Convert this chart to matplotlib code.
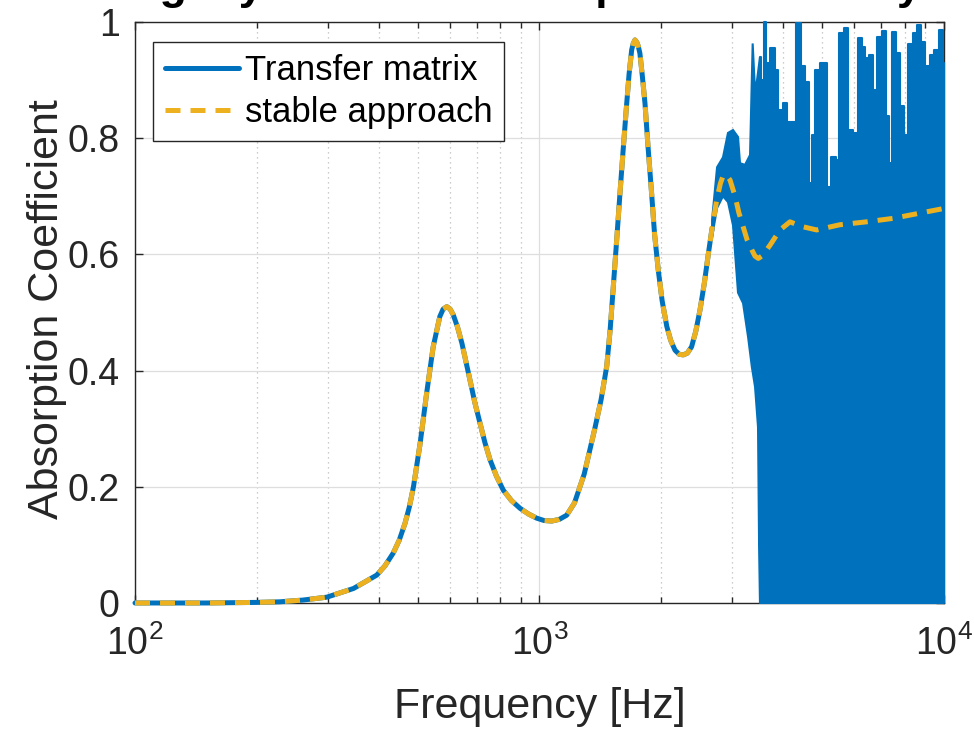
import matplotlib
matplotlib.use('Agg')
import matplotlib.pyplot as plt
from matplotlib.ticker import FixedLocator, LogLocator, NullFormatter, FormatStrFormatter
import numpy as np

plt.rcParams['font.family'] = ['Liberation Sans', 'DejaVu Sans']
plt.rcParams['mathtext.fontset'] = 'custom'
plt.rcParams['mathtext.rm'] = 'Liberation Sans'
plt.rcParams['mathtext.it'] = 'Liberation Sans:italic'
plt.rcParams['mathtext.bf'] = 'Liberation Sans:bold'

# Shared smooth part (both methods agree up to ~2.7 kHz)
freq_common = [100, 150, 200, 228, 260, 298, 347, 396, 415, 435, 450, 465, 477,
               488, 507, 526, 546, 567, 578, 590, 601, 612, 627, 643, 673, 692,
               713, 733, 755, 783, 814, 853, 895, 940, 984, 1025, 1072, 1120,
               1167, 1220, 1290, 1370, 1420, 1466, 1495, 1522, 1550, 1581,
               1610, 1643, 1665, 1690, 1705, 1722, 1740, 1755, 1771, 1795,
               1823, 1855, 1893, 1925, 1966, 2010, 2064, 2110, 2163, 2215,
               2268, 2320, 2377, 2435, 2493, 2555, 2616, 2671]
alpha_common = [0.0, 0.0, 0.001, 0.002, 0.005, 0.010, 0.025, 0.048, 0.064,
                0.086, 0.108, 0.137, 0.166, 0.200, 0.275, 0.361, 0.441, 0.493,
                0.506, 0.510, 0.506, 0.496, 0.475, 0.447, 0.384, 0.345, 0.309,
                0.276, 0.246, 0.218, 0.194, 0.176, 0.163, 0.153, 0.146, 0.142,
                0.141, 0.144, 0.151, 0.172, 0.222, 0.300, 0.350, 0.407, 0.470,
                0.544, 0.620, 0.705, 0.780, 0.860, 0.910, 0.952, 0.963, 0.969,
                0.965, 0.958, 0.946, 0.908, 0.860, 0.785, 0.705, 0.635, 0.573,
                0.520, 0.476, 0.452, 0.435, 0.428, 0.427, 0.430, 0.441, 0.468,
                0.504, 0.550, 0.602, 0.645]

# Stable approach above 2.7 kHz
freq_stable = [2743, 2800, 2849, 2900, 2958, 3047, 3110, 3186, 3260, 3347,
               3410, 3475, 3560, 3716, 3932, 4161, 4447, 4845, 5530, 6437,
               7494, 8723, 10000]
alpha_stable = [0.694, 0.722, 0.737, 0.736, 0.728, 0.699, 0.672, 0.648, 0.625,
                0.608, 0.597, 0.593, 0.598, 0.616, 0.642, 0.656, 0.648, 0.642,
                0.651, 0.656, 0.662, 0.671, 0.679]

# Transfer matrix, unstable region: onset band (upper / lower edges)
freq_tm_onset_upper = [2671, 2748, 2842, 2924, 3009, 3096, 3131, 3221, 3315,
                       3365, 3411, 3450, 3509]
alpha_tm_onset_upper = [0.66, 0.75, 0.767, 0.809, 0.814, 0.802, 0.757, 0.754,
                        0.771, 0.963, 0.88, 0.90, 0.94]
freq_tm_onset_lower = [2671, 2748, 2842, 2924, 3009, 3096, 3186, 3278, 3350,
                       3411, 3469, 3490, 3509]
alpha_tm_onset_lower = [0.63, 0.68, 0.70, 0.69, 0.65, 0.534, 0.516, 0.458,
                        0.406, 0.372, 0.303, 0.10, 0.0]

# Transfer matrix, fully oscillating 0..peak region: peak envelope
freq_tm_peaks = [3509, 3568, 3630, 3651, 3772, 3859, 3910, 4068, 4115, 4282,
                 4355, 4482, 4577, 4683, 4744, 4845, 5023, 5129, 5166, 5317,
                 5470, 5555, 5746, 5855, 6026, 6199, 6306, 6440, 6626, 6751,
                 6946, 7146, 7271, 7383, 7481, 7696, 7859, 8085, 8241, 8478,
                 8624, 8872, 9128, 9324, 9594, 9870, 10000]
alpha_tm_peaks = [0.94, 0.90, 1.0, 0.93, 0.955, 0.917, 0.849, 0.86, 0.828,
                  0.828, 0.998, 0.924, 0.897, 0.722, 0.805, 0.917, 0.93, 0.929,
                  0.716, 0.768, 0.762, 0.981, 0.989, 0.814, 0.809, 0.972, 0.957,
                  0.938, 0.943, 0.883, 0.974, 0.985, 0.838, 0.757, 0.983, 0.947,
                  0.855, 0.805, 0.962, 0.981, 0.995, 0.966, 0.924, 0.943, 0.952,
                  0.986, 0.93]

blue = '#0072BD'
orange = '#EDB120'

fig = plt.figure(figsize=(9.74, 7.34), dpi=100)
ax = fig.add_axes([0.1386, 0.1785, 0.8306, 0.7916])

tm_line, = ax.plot(freq_common, alpha_common, color=blue, lw=3.6,
                   solid_capstyle='round', solid_joinstyle='round',
                   clip_on=False, zorder=3, label='Transfer matrix')
band_f = np.r_[freq_tm_onset_upper, freq_tm_onset_lower[::-1]]
band_a = np.r_[alpha_tm_onset_upper, alpha_tm_onset_lower[::-1]]
ax.fill(band_f, band_a, color=blue, lw=1.5, ec=blue, zorder=3, clip_on=False)
ax.fill_between(freq_tm_peaks, 0, alpha_tm_peaks, step='mid', color=blue,
                lw=1.5, ec=blue, zorder=3, clip_on=False)

st_line, = ax.plot(freq_common + freq_stable, alpha_common + alpha_stable,
                   color=orange, lw=3.6, ls=(0, (3, 2)), clip_on=False,
                   zorder=4, label='stable approach')

ax.set_xscale('log')
ax.set_xlim(100, 10000)
ax.set_ylim(0, 1)
ax.yaxis.set_major_locator(FixedLocator([0, 0.2, 0.4, 0.6, 0.8, 1.0]))
ax.yaxis.set_major_formatter(FormatStrFormatter('%g'))
ax.xaxis.set_minor_locator(LogLocator(base=10, subs=np.arange(2, 10)))
ax.xaxis.set_minor_formatter(NullFormatter())

ax.grid(True, which='major', color='#dedede', lw=0.9)
ax.grid(True, which='minor', axis='x', color='#bdbdbd', lw=0.9, ls=(0, (1, 3)))
ax.set_axisbelow(True)

for s in ax.spines.values():
    s.set_color('#262626')
    s.set_linewidth(1.0)
ax.tick_params(which='both', direction='in', top=True, right=True,
               colors='#262626', labelcolor='#262626')
ax.tick_params(which='major', length=6, width=1.0, labelsize=27)
ax.tick_params(which='minor', length=4, width=1.0)
ax.tick_params(axis='y', pad=11)
ax.tick_params(axis='x', pad=16)

ax.set_xlabel('Frequency [Hz]', fontsize=31, color='#262626')
ax.set_ylabel('Absorption Coefficient', fontsize=31, color='#262626')
ax.xaxis.set_label_coords(0.5, -0.145)
ax.yaxis.set_label_coords(-0.084, 0.505)

leg = ax.legend(handles=[tm_line, st_line], loc='upper left',
                bbox_to_anchor=(0.0222, 0.9656), borderaxespad=0,
                fontsize=25, frameon=True, fancybox=False, framealpha=1,
                edgecolor='#262626', handlelength=2.14, handletextpad=0.15,
                labelspacing=0.25, borderpad=0.35)
leg.get_frame().set_linewidth(1.0)

# title sits mostly above the canvas, only its lower part shows
fig.text(0.554, 1 + 1 / 734, 'Rigidly backed 80 mm poro-elastic layer',
         fontsize=32, fontweight='bold', ha='center', va='baseline')

fig.savefig('out.png', dpi=100)
